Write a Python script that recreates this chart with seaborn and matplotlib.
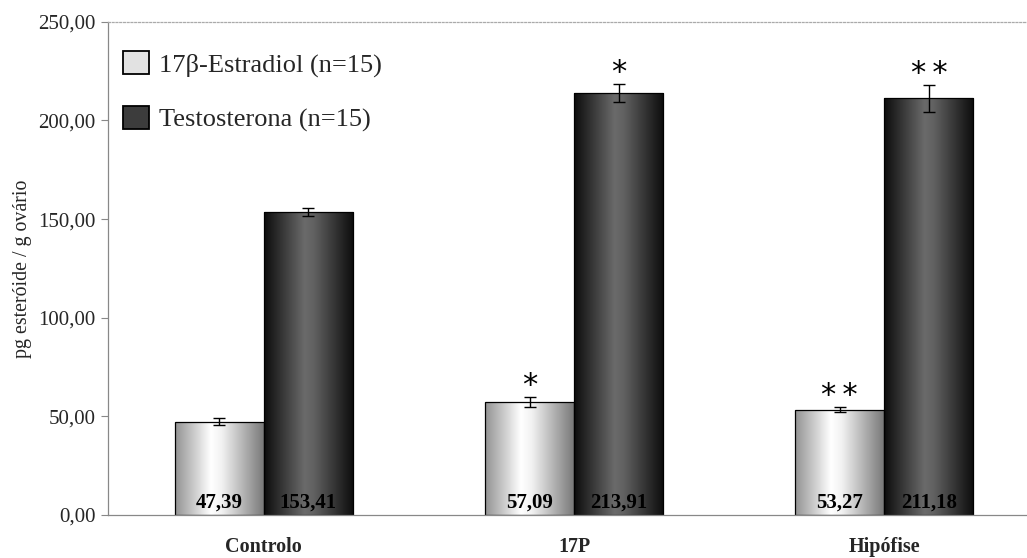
import numpy as np
import pandas as pd
import matplotlib
matplotlib.use("Agg")
import matplotlib.pyplot as plt
from matplotlib.colors import LinearSegmentedColormap
from matplotlib.patches import Patch
from matplotlib.container import BarContainer
import seaborn as sns

# Data
groups = ["Controlo", "17P", "Hipófise"]
series = ["17β-Estradiol (n=15)", "Testosterona (n=15)"]
estradiol = [47.39, 57.09, 53.27]
testosterona = [153.41, 213.91, 211.18]
estradiol_err = [2.0, 2.5, 1.3]
testosterona_err = [2.0, 4.5, 6.8]
estradiol_sig = ["", "*", "**"]
testosterona_sig = ["", "*", "**"]
yticks = [0, 50, 100, 150, 200, 250]

df = pd.DataFrame({
    "grupo": groups * 2,
    "serie": [series[0]] * 3 + [series[1]] * 3,
    "valor": estradiol + testosterona,
})

sns.set_theme(style="white")
plt.rcParams["font.family"] = ["Liberation Serif", "DejaVu Serif"]

fig = plt.figure(figsize=(10.27, 5.58), dpi=100)
ax = fig.add_axes([0.105, 0.077, 0.895, 0.884])

sns.barplot(data=df, x="grupo", y="valor", hue="serie", order=groups,
            hue_order=series, palette=["#dddddd", "#333333"], width=0.574,
            errorbar=None, legend=False, ax=ax)

light_cmap = LinearSegmentedColormap.from_list(
    "light", [(0, "#929292"), (0.40, "#ffffff"), (0.52, "#f2f2f2"), (1, "#767676")])
dark_cmap = LinearSegmentedColormap.from_list(
    "dark", [(0, "#0c0c0c"), (0.45, "#6a6a6a"), (0.55, "#626262"), (1, "#0c0c0c")])
grad = np.linspace(0, 1, 256).reshape(1, -1)

errs = [estradiol_err, testosterona_err]
vals = [estradiol, testosterona]
sigs = [estradiol_sig, testosterona_sig]
cmaps = [light_cmap, dark_cmap]

bar_containers = [c for c in ax.containers if isinstance(c, BarContainer)]
for k, cont in enumerate(bar_containers):
    xs, hs = [], []
    for patch in cont.patches:
        x0 = patch.get_x()
        w = patch.get_width()
        h = patch.get_height()
        im = ax.imshow(grad, cmap=cmaps[k], extent=(x0, x0 + w, 0, h),
                       aspect="auto", zorder=1.5, interpolation="bilinear")
        im.set_clip_path(patch)
        patch.set_facecolor("none")
        patch.set_edgecolor("black")
        patch.set_linewidth(0.9)
        patch.set_zorder(2)
        xs.append(x0 + w / 2)
        hs.append(h)
    ax.errorbar(xs, hs, yerr=errs[k], fmt="none", ecolor="black",
                elinewidth=1.0, capsize=4, capthick=1.0, zorder=3)
    for x, v, s, e in zip(xs, vals[k], sigs[k], errs[k]):
        ax.text(x, 6.5, f"{v:.2f}".replace(".", ","), ha="center", va="center",
                fontsize=15, fontweight="bold", color="black", zorder=4)
        if s:
            ax.text(x, v + e + 6.0, "\u2009".join(s), ha="center", va="center",
                    fontsize=22, color="black", family="DejaVu Sans", zorder=4)

ax.set_xlim(-0.503, 2.46)
ax.set_ylim(0, 250)
ax.set_yticks(yticks)
ax.set_yticklabels([f"{t:.2f}".replace(".", ",") for t in yticks], fontsize=15)
ax.set_xticks(range(len(groups)))
ax.set_xticklabels(groups, fontsize=14.5, fontweight="bold")
ax.set_xticks([0.5, 1.5], minor=True)
ax.tick_params(axis="x", which="major", length=0, pad=16)
ax.tick_params(axis="x", which="minor", length=5, direction="out", color="#888888", width=0.8)
ax.tick_params(axis="y", length=5, direction="out", color="#888888", width=0.8, pad=4, left=True)
ax.set_xlabel("")
ax.set_ylabel("pg esteróide / g ovário", fontsize=14.3, labelpad=4)

for side in ["left", "bottom"]:
    ax.spines[side].set_color("#888888")
    ax.spines[side].set_linewidth(0.9)
ax.spines["right"].set_visible(False)
ax.spines["top"].set_color("#aaaaaa")
ax.spines["top"].set_linestyle((0, (1.5, 1.5)))
ax.spines["top"].set_linewidth(0.9)

handles = [Patch(facecolor="#e2e2e2", edgecolor="black", linewidth=1.3),
           Patch(facecolor="#3c3c3c", edgecolor="black", linewidth=1.3)]
ax.legend(handles, series, loc="upper left", bbox_to_anchor=(0.005, 0.962),
          frameon=False, fontsize=19, handlelength=1.0, handleheight=0.95,
          handletextpad=0.35, labelspacing=1.1, borderaxespad=0.0)

fig.savefig("out.png", dpi=100)
